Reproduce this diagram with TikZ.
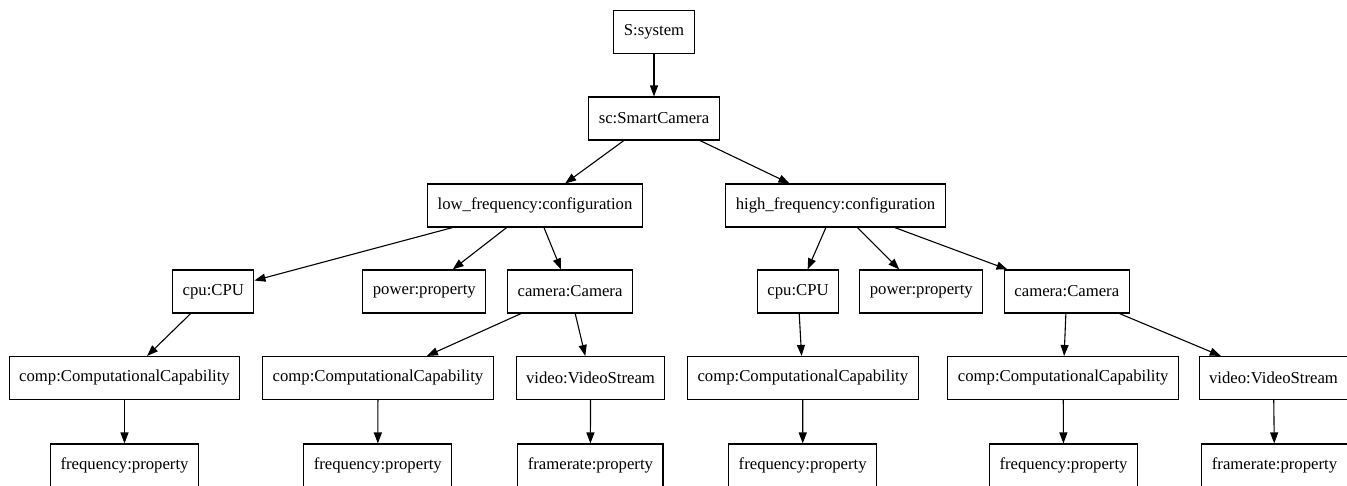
\documentclass[tikz,border=0pt]{standalone}
\usepackage{fontspec}
\setmainfont{Liberation Serif}
\usetikzlibrary{arrows.meta}
\begin{document}
\begin{tikzpicture}[x=1pt,y=-1pt,
  box/.style={draw=black, line width=1.1pt, minimum height=43pt, inner xsep=10pt,
    font=\fontsize{16.7}{20}\selectfont, text=black, fill=white},
  link/.style={draw=black, line width=1.1pt, -{Triangle[length=11pt,width=8pt]}}]
\useasboundingbox (0,0) rectangle (1347,485);
\clip (0,0) rectangle (1347,485);
% row 1-3
\node[box] (S) at (654,32) {S:system};
\node[box] (sc) at (654,118.5) {sc:SmartCamera};
\node[box] (low) at (535,205.5) {low\_frequency:configuration};
\node[box] (high) at (835.5,205.5) {high\_frequency:configuration};
% row 4
\node[box] (cpuA) at (213.3,291.5) {cpu:CPU};
\node[box] (powA) at (424.3,291.5) {power:property};
\node[box] (camA) at (570,291.5) {camera:Camera};
\node[box] (cpuB) at (798,291.5) {cpu:CPU};
\node[box] (powB) at (921.3,291.5) {power:property};
\node[box] (camB) at (1066.8,291.5) {camera:Camera};
% row 5
\node[box] (compA) at (124.5,378) {comp:ComputationalCapability};
\node[box] (compB) at (378,378) {comp:ComputationalCapability};
\node[box] (vidA) at (590.5,378) {video:VideoStream};
\node[box] (compC) at (802.8,378) {comp:ComputationalCapability};
\node[box] (compD) at (1063.2,378) {comp:ComputationalCapability};
\node[box] (vidB) at (1273.5,378) {video:VideoStream};
% row 6
\node[box] (freqA) at (124.5,465.5) {frequency:property};
\node[box] (freqB) at (377.8,465.5) {frequency:property};
\node[box] (frA) at (590.4,465.5) {framerate:property};
\node[box] (freqC) at (802.7,465.5) {frequency:property};
\node[box] (freqD) at (1063.5,465.5) {frequency:property};
\node[box] (frB) at (1274.5,465.5) {framerate:property};
% edges
\draw[link] (S) -- (sc);
\draw[link] (sc) -- (low);
\draw[link] (sc) -- (high);
\draw[link] (low) -- (cpuA);
\draw[link] (low) -- (powA);
\draw[link] (low) -- (camA);
\draw[link] (high) -- (cpuB);
\draw[link] (high) -- (powB);
\draw[link] (high) -- (camB);
\draw[link] (cpuA) -- (compA);
\draw[link] (camA) -- (compB);
\draw[link] (camA) -- (vidA);
\draw[link] (cpuB) -- (compC);
\draw[link] (camB) -- (compD);
\draw[link] (camB) -- (vidB);
\draw[link] (compA) -- (freqA);
\draw[link] (compB) -- (freqB);
\draw[link] (vidA) -- (frA);
\draw[link] (compC) -- (freqC);
\draw[link] (compD) -- (freqD);
\draw[link] (vidB) -- (frB);
\end{tikzpicture}
\end{document}
